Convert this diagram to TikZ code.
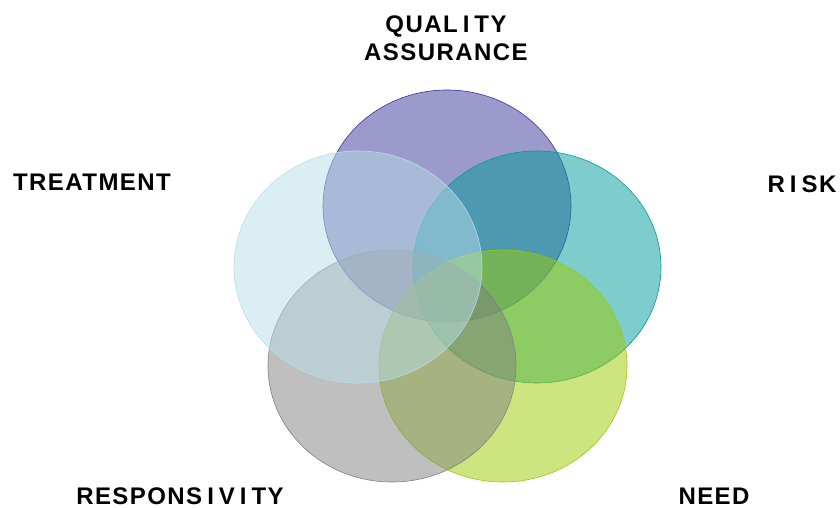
\documentclass[tikz,border=0pt]{standalone}
\usepackage{fontspec}
\setmainfont{Liberation Sans}
\newfontfamily\lblfont[LetterSpace=6]{Liberation Sans}
\newcommand{\spI}{\kern5pt I\kern5pt}
\definecolor{qacol}{RGB}{57,51,153}
\definecolor{riskcol}{RGB}{0,153,153}
\definecolor{needcol}{RGB}{155,204,0}
\definecolor{respcol}{RGB}{128,128,128}
\definecolor{treatcol}{RGB}{183,221,232}
\tikzset{
  lbl/.style={font=\lblfont\bfseries\fontsize{24}{28}\selectfont, align=center, inner sep=0pt},
  blob/.style={line width=0.6pt, fill opacity=0.5}
}
\begin{document}
\begin{tikzpicture}[x=1pt,y=-1pt]
\useasboundingbox (0,0) rectangle (840,508);
\coordinate (QA) at (447,206);
\coordinate (R) at (537,267);
\coordinate (N) at (503,366);
\coordinate (RS) at (392,366);
\coordinate (T) at (358,267);

\draw[blob, draw=qacol, fill=qacol] (QA) ellipse [x radius=124, y radius=116];
\draw[blob, draw=riskcol, fill=riskcol] (R) ellipse [x radius=124, y radius=116];
\draw[blob, draw=needcol, fill=needcol] (N) ellipse [x radius=124, y radius=116];
\draw[blob, draw=respcol, fill=respcol] (RS) ellipse [x radius=124, y radius=116];
\draw[blob, draw=treatcol, fill=treatcol] (T) ellipse [x radius=124, y radius=116];

\node[lbl] (qalbl) at (446,38) {QUAL\spI TY\\ASSURANCE};
\node[lbl] (risklbl) at (802,184) {R\spI SK};
\node[lbl] (needlbl) at (714,496) {NEED};
\node[lbl] (resplbl) at (180,496) {RESPONS\spI V\spI TY};
\node[lbl] (treatlbl) at (92,182) {TREATMENT};
\end{tikzpicture}
\end{document}
